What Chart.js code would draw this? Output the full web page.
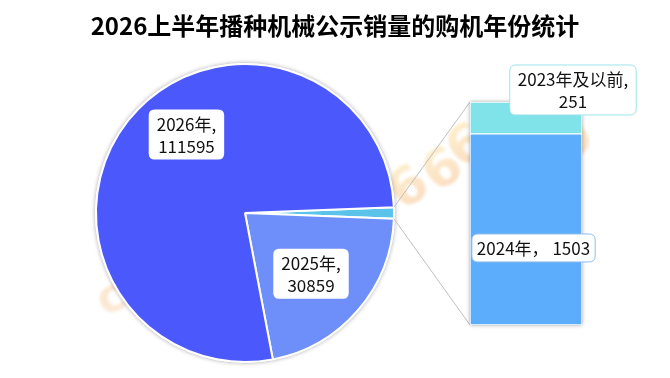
<!DOCTYPE html>
<html><head><meta charset="utf-8">
<script src="https://cdn.jsdelivr.net/npm/chart.js@4.4.1/dist/chart.umd.min.js"></script>
<style>
html,body{margin:0;padding:0;background:#fff;}
#wrap{position:relative;width:670px;height:378px;overflow:hidden;}
canvas{position:absolute;left:0;top:0;}
#title{position:absolute;left:0;top:9px;width:670px;text-align:center;font:bold 24px "Noto Sans CJK SC";line-height:32px;color:#000;}
</style></head><body>
<div id="wrap">
<canvas id="pie" width="670" height="378"></canvas>
<canvas id="bar" width="670" height="378"></canvas>
<div id="title"></div>
</div>
<script>
// ---- data ----
const chartTitle = '2026上半年播种机械公示销量的购机年份统计';
const pieLabels = ['其他', '2025年', '2026年'];
const mainValues = [30859, 111595];           // 2025年, 2026年
const barLabels = ['2024年', '2023年及以前'];
const barValues = [1503, 251];
const otherTotal = barValues[0] + barValues[1];
const pieValues = [otherTotal, mainValues[0], mainValues[1]];

// ---- styles ----
const pieColors = ['#5BC3EA', '#6E8FFA', '#4A58FC'];
const barColors = ['#5DADFD', '#80E3EA'];
const FONT = '"Noto Sans CJK SC", "Noto Sans", sans-serif';

document.getElementById('title').textContent = chartTitle;

const pieTotal = pieValues.reduce((a, b) => a + b, 0);
const otherDeg = otherTotal / pieTotal * 360;

function wmGlyph(ctx, ch, x, y, rot, size, c1, c2) {
  ctx.save();
  ctx.translate(x, y);
  ctx.rotate(rot);
  ctx.font = 'bold ' + size + 'px "DejaVu Sans"';
  ctx.textAlign = 'center';
  ctx.textBaseline = 'middle';
  const g = ctx.createLinearGradient(0, -size / 2, 0, size / 2);
  g.addColorStop(0, c1);
  g.addColorStop(1, c2);
  ctx.fillStyle = g;
  ctx.filter = 'blur(1.5px)';
  ctx.fillText(ch, 0, 0);
  ctx.restore();
}

const watermark = {
  id: 'watermark',
  beforeDatasetsDraw(chart) {
    const ctx = chart.ctx;
    const a = 'rgba(250,215,135,0.42)', b = 'rgba(245,165,105,0.42)';
    wmGlyph(ctx, 'c', 112, 300, -0.5, 46, 'rgba(248,205,160,0.5)', 'rgba(248,215,180,0.5)');
    wmGlyph(ctx, '6', 410, 190, -0.6, 52, a, b);
    wmGlyph(ctx, '6', 444, 172, -0.6, 52, a, b);
    wmGlyph(ctx, '6', 468, 148, -0.6, 52, a, b);
    wmGlyph(ctx, '0', 574, 142, -0.6, 52, a, b);
    // soft shadow ring around the pie
    const arc = chart.getDatasetMeta(0).data[0];
    ctx.save();
    ctx.shadowColor = 'rgba(0,0,0,0.35)';
    ctx.shadowBlur = 4;
    ctx.fillStyle = '#fff';
    ctx.beginPath();
    ctx.arc(arc.x, arc.y, arc.outerRadius + 1, 0, Math.PI * 2);
    ctx.fill();
    ctx.restore();
  }
};

const pieChart = new Chart(document.getElementById('pie'), {
  type: 'pie',
  data: {
    labels: pieLabels,
    datasets: [{ data: pieValues, backgroundColor: pieColors, borderColor: '#fff', borderWidth: 2 }]
  },
  options: {
    responsive: false, animation: false,
    rotation: 90 - otherDeg / 2,
    layout: { padding: { left: 95, right: 275, top: 63, bottom: 15 } },
    plugins: { legend: { display: false }, tooltip: { enabled: false }, title: { display: false } }
  },
  plugins: [watermark]
});

function roundRect(ctx, x, y, w, h, r) {
  ctx.beginPath();
  ctx.moveTo(x + r, y);
  ctx.lineTo(x + w - r, y);
  ctx.quadraticCurveTo(x + w, y, x + w, y + r);
  ctx.lineTo(x + w, y + h - r);
  ctx.quadraticCurveTo(x + w, y + h, x + w - r, y + h);
  ctx.lineTo(x + r, y + h);
  ctx.quadraticCurveTo(x, y + h, x, y + h - r);
  ctx.lineTo(x, y + r);
  ctx.quadraticCurveTo(x, y, x + r, y);
  ctx.closePath();
}

function drawLabel(ctx, cx, cy, lines, border, padX) {
  ctx.save();
  ctx.font = '17px ' + FONT;
  const lh = 22;
  let w = 0;
  lines.forEach(l => { w = Math.max(w, ctx.measureText(l).width); });
  const bw = w + padX * 2, bh = lines.length * lh + 6;
  roundRect(ctx, cx - bw / 2, cy - bh / 2, bw, bh, 6);
  ctx.fillStyle = '#fff';
  ctx.fill();
  if (border) { ctx.strokeStyle = border; ctx.lineWidth = 1; ctx.stroke(); }
  ctx.fillStyle = '#111';
  ctx.textAlign = 'center';
  ctx.textBaseline = 'middle';
  lines.forEach((l, i) => {
    ctx.fillText(l, cx, cy - (lines.length - 1) * lh / 2 + i * lh + 1);
  });
  ctx.restore();
}

const connectors = {
  id: 'connectors',
  beforeDatasetsDraw(chart) {
    const ctx = chart.ctx;
    const arc = pieChart.getDatasetMeta(0).data[0];
    const bot = chart.getDatasetMeta(0).data[0];
    const top = chart.getDatasetMeta(1).data[0];
    const left = bot.x - bot.width / 2;
    const ax = arc.x + arc.outerRadius * Math.cos(arc.startAngle);
    const ay = arc.y + arc.outerRadius * Math.sin(arc.startAngle);
    const bx = arc.x + arc.outerRadius * Math.cos(arc.endAngle);
    const by = arc.y + arc.outerRadius * Math.sin(arc.endAngle);
    ctx.save();
    ctx.strokeStyle = '#BFBFBF';
    ctx.lineWidth = 1;
    ctx.beginPath();
    ctx.moveTo(ax, ay); ctx.lineTo(left, top.y);
    ctx.moveTo(bx, by); ctx.lineTo(left, bot.base);
    ctx.stroke();
    // bar shadow
    ctx.shadowColor = 'rgba(0,0,0,0.35)';
    ctx.shadowBlur = 4;
    ctx.fillStyle = '#fff';
    ctx.fillRect(left, top.y, bot.width, bot.base - top.y);
    ctx.restore();
  },
  afterDatasetsDraw(chart) {
    const ctx = chart.ctx;
    // pie labels
    const arc = pieChart.getDatasetMeta(0).data[0];
    const R = arc.outerRadius;
    drawLabel(ctx, arc.x - 0.393 * R, arc.y - 0.527 * R, [pieLabels[2] + ',', String(pieValues[2])], null, 8);
    drawLabel(ctx, arc.x + 0.443 * R, arc.y + 0.407 * R, [pieLabels[1] + ',', String(pieValues[1])], null, 8);
    // bar labels
    const bot = chart.getDatasetMeta(0).data[0];
    const top = chart.getDatasetMeta(1).data[0];
    drawLabel(ctx, bot.x + 7.5, (bot.y + bot.base) / 2 + 18.5, [barLabels[0] + '， ' + barValues[0]], '#8DBCEB', 5);
    drawLabel(ctx, top.x + 47, (top.y + top.base) / 2 - 28, [barLabels[1] + ',', String(barValues[1])], '#9FE3EC', 8);
  }
};

new Chart(document.getElementById('bar'), {
  type: 'bar',
  data: {
    labels: ['其他'],
    datasets: [
      { label: barLabels[0], data: [barValues[0]], backgroundColor: barColors[0], borderColor: '#fff', borderWidth: 1, borderSkipped: false },
      { label: barLabels[1], data: [barValues[1]], backgroundColor: barColors[1], borderColor: '#fff', borderWidth: 1, borderSkipped: false }
    ]
  },
  options: {
    responsive: false, animation: false,
    categoryPercentage: 1, barPercentage: 1,
    layout: { padding: { left: 470, right: 88, top: 102, bottom: 53 } },
    scales: {
      x: { display: false, stacked: true },
      y: { display: false, stacked: true, min: 0, max: otherTotal }
    },
    plugins: { legend: { display: false }, tooltip: { enabled: false } }
  },
  plugins: [connectors]
});
</script>
</body></html>
